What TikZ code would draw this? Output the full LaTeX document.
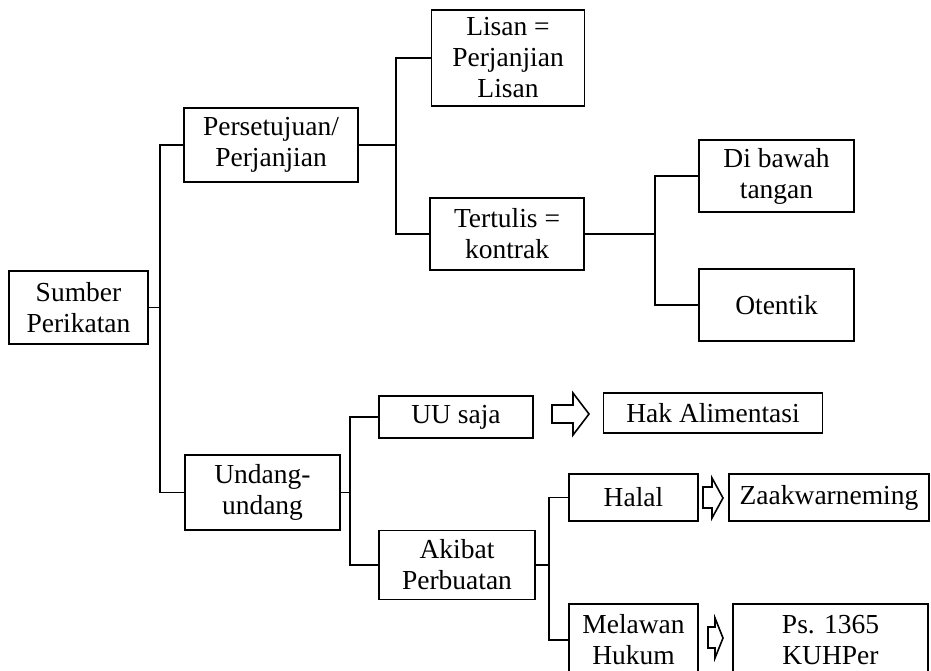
\documentclass[tikz,border=0pt]{standalone}
\usepackage{fontspec}
\setmainfont{Liberation Serif}
\begin{document}
\begin{tikzpicture}[x=1pt,y=-1pt,line width=1.8pt,
	kotak/.style={draw,align=center,inner sep=0pt,font=\fontsize{27.5}{31}\selectfont},
	panah/.style={draw,line width=1.6pt,fill=white,line join=miter}]
	\useasboundingbox (0,0) rectangle (931,670);
	% boxes
	\node[kotak,minimum width=139,minimum height=73] (sumber) at (78.5,307.5) {Sumber\\Perikatan};
	\node[kotak,minimum width=174,minimum height=74] (setuju) at (271,145) {Persetujuan/\\Perjanjian};
	\node[kotak,minimum width=153,minimum height=96] (lisan) at (508,58) {Lisan =\\Perjanjian\\Lisan};
	\node[kotak,minimum width=154,minimum height=72] (tulis) at (507,234) {Tertulis =\\kontrak};
	\node[kotak,minimum width=155,minimum height=72] (bawah) at (776.5,176) {Di bawah\\tangan};
	\node[kotak,minimum width=155,minimum height=72] (otentik) at (776.5,305) {Otentik};
	\node[kotak,minimum width=155,minimum height=75] (uu) at (262.5,492.5) {Undang-\\undang};
	\node[kotak,minimum width=154,minimum height=42] (saja) at (456,417) {UU saja};
	\node[kotak,minimum width=219,minimum height=40] (hak) at (713,413) {Hak Alimentasi};
	\node[kotak,minimum width=156,minimum height=69] (akibat) at (457,565) {Akibat\\Perbuatan};
	\node[kotak,minimum width=129,minimum height=47] (halal) at (633.5,497.5) {Halal};
	\node[kotak,minimum width=200,minimum height=47] (zaak) at (829,497.5) {Zaakwarneming};
	\node[kotak,minimum width=129,minimum height=72] (melawan) at (633.5,640) {Melawan\\Hukum};
	\node[kotak,minimum width=195,minimum height=72] (ps) at (830.5,640) {Ps. 1365\\KUHPer};
	% junctions
	\coordinate (j1) at (160,307.5);
	\coordinate (j2) at (396,145);
	\coordinate (j3) at (655,234);
	\coordinate (j4) at (350,492.5);
	\coordinate (j5) at (549,565);
	% connectors
	\draw (sumber.east) -- (j1);
	\draw (setuju.west) -| (j1) |- (uu.west);
	\draw (setuju.east) -- (j2);
	\draw (lisan.west) -| (j2) |- (tulis.west);
	\draw (tulis.east) -- (j3);
	\draw (bawah.west) -| (j3) |- (otentik.west);
	\draw (uu.east) -- (j4);
	\draw (saja.west) -| (j4) |- (akibat.west);
	\draw (akibat.east) -- (j5);
	\draw (halal.west) -| (j5) |- (melawan.west);
	% block arrows
	\draw[panah] (552,405) -- (573,405) -- (573,393) -- (589,414) -- (573,435) -- (573,423) -- (552,423) -- cycle;
	\draw[panah] (703,487) -- (712,487) -- (712,478) -- (723,498) -- (712,518) -- (712,508) -- (703,508) -- cycle;
	\draw[panah] (708,627) -- (715,627) -- (715,618) -- (723,638) -- (715,658) -- (715,648) -- (708,648) -- cycle;
\end{tikzpicture}
\end{document}
